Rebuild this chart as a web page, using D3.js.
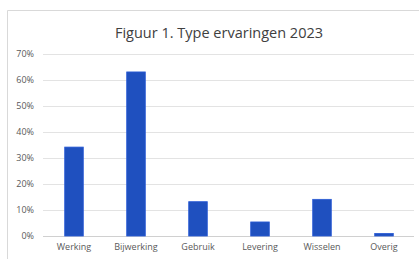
<!DOCTYPE html>
<html>
<head>
<meta charset="utf-8">
<script src="https://cdn.jsdelivr.net/npm/d3@7"></script>
<style>
  html, body { margin: 0; padding: 0; background: #fff; overflow: hidden; }
  svg { display: block; }
</style>
</head>
<body>
<svg></svg>
<script>
const width = 419;
const height = 259;

const title = "Figuur 1. Type ervaringen 2023";
const categories = ["Werking", "Bijwerking", "Gebruik", "Levering", "Wisselen", "Overig"];
const values = [0.342, 0.631, 0.132, 0.054, 0.141, 0.010];
const yTicks = [0, 0.1, 0.2, 0.3, 0.4, 0.5, 0.6, 0.7];

const margin = { top: 54, right: 4, bottom: 23, left: 43 };

const svg = d3.select("svg")
    .attr("width", width)
    .attr("height", height);

// chart frame: only the left and top edges fall inside the crop
svg.append("path")
    .attr("d", `M7.5,${height} V10.5 H${width}`)
    .attr("fill", "none")
    .attr("stroke", "#d9d9d9");

const x = d3.scaleBand()
    .domain(categories)
    .range([margin.left, width - margin.right])
    .paddingInner(0.7)
    .paddingOuter(0.35);

const y = d3.scaleLinear()
    .domain([0, 0.7])
    .range([height - margin.bottom, margin.top]);

// gridlines
svg.append("g")
    .selectAll("line")
    .data(yTicks)
    .enter().append("line")
    .attr("x1", margin.left)
    .attr("x2", width - margin.right - 1)
    .attr("y1", d => Math.round(y(d)) + 0.5)
    .attr("y2", d => Math.round(y(d)) + 0.5)
    .attr("stroke", d => d === 0 ? "#d0d0d0" : "#e3e3e3")
    .attr("stroke-width", 1);

// y axis labels
const yAxis = d3.axisLeft(y)
    .tickValues(yTicks)
    .tickFormat(d3.format(".0%"))
    .tickSize(0)
    .tickPadding(9);

svg.append("g")
    .attr("transform", `translate(${margin.left},0)`)
    .call(yAxis)
    .call(g => g.select(".domain").remove())
    .selectAll("text")
    .attr("font-family", "'Open Sans', sans-serif")
    .attr("font-size", "9px")
    .attr("fill", "#595959");

// bars
svg.append("g")
    .selectAll("rect")
    .data(values)
    .enter().append("rect")
    .attr("x", (d, i) => x(categories[i]))
    .attr("y", d => y(d))
    .attr("width", x.bandwidth())
    .attr("height", d => y(0) - y(d))
    .attr("fill", "#1f50bf")
    .attr("stroke", "#2a5bd6")
    .attr("stroke-width", 0.8);

// x axis labels
const xAxis = d3.axisBottom(x)
    .tickSize(0)
    .tickPadding(8);

svg.append("g")
    .attr("transform", `translate(0,${y(0)})`)
    .call(xAxis)
    .call(g => g.select(".domain").remove())
    .selectAll("text")
    .attr("font-family", "'Open Sans', sans-serif")
    .attr("font-size", "9px")
    .attr("fill", "#595959");

// title
svg.append("text")
    .attr("x", 219)
    .attr("y", 38)
    .attr("text-anchor", "middle")
    .attr("font-family", "'Open Sans', sans-serif")
    .attr("font-size", "14.5px")
    .attr("fill", "#404040")
    .text(title);
</script>
</body>
</html>
